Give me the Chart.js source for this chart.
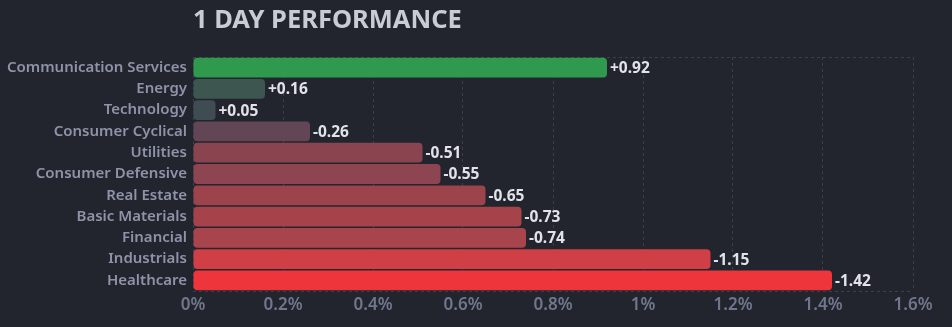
<!DOCTYPE html>
<html>
<head>
<meta charset="utf-8">
<script src="https://cdn.jsdelivr.net/npm/chart.js@4.4.1/dist/chart.umd.min.js"></script>
<style>
  html, body { margin: 0; padding: 0; background: #22252e; }
  #wrap { width: 952px; height: 327px; position: relative; }
</style>
</head>
<body>
<div id="wrap"><canvas id="perfChart"></canvas></div>
<script>
const sectors = ["Communication Services", "Energy", "Technology", "Consumer Cyclical", "Utilities",
    "Consumer Defensive", "Real Estate", "Basic Materials", "Financial", "Industrials", "Healthcare"];
const changes = [0.92, 0.16, 0.05, -0.26, -0.51, -0.55, -0.65, -0.73, -0.74, -1.15, -1.42];
const barColors = ["#2f9a4e", "#3d5650", "#3f4d53", "#634656", "#8a4450", "#8d4551",
    "#9c434c", "#a6434a", "#a8444b", "#cf3f45", "#ee353c"];
const xTicks = [0, 0.2, 0.4, 0.6, 0.8, 1, 1.2, 1.4, 1.6];

const gridColor = "#3b3f4c";

// value labels + title
const labelPlugin = {
    id: "valueLabels",
    afterDatasetsDraw(chart) {
        const ctx = chart.ctx;
        const meta = chart.getDatasetMeta(0);
        ctx.save();
        ctx.font = "bold 15.5px 'Noto Sans'";
        ctx.fillStyle = "#e2e3ea";
        ctx.textBaseline = "middle";
        ctx.textAlign = "left";
        meta.data.forEach((bar, i) => {
            const v = changes[i];
            const txt = (v > 0 ? "+" : "") + v.toFixed(2);
            ctx.fillText(txt, bar.x + 3, bar.y + 1);
        });
        ctx.font = "bold 25.5px 'Noto Sans'";
        ctx.fillStyle = "#c9cbd7";
        ctx.fillText("1 DAY PERFORMANCE", chart.chartArea.left, 21);
        ctx.restore();
    }
};

const ctx = document.getElementById("perfChart").getContext("2d");
new Chart(ctx, {
    type: "bar",
    data: {
        labels: sectors,
        datasets: [{
            data: changes.map(v => Math.abs(v)),
            backgroundColor: barColors,
            borderRadius: 4,
            borderSkipped: false,
            categoryPercentage: 1,
            barPercentage: 0.93
        }]
    },
    options: {
        indexAxis: "y",
        responsive: true,
        maintainAspectRatio: false,
        animation: false,
        layout: { padding: { top: 57, right: 39, left: 0, bottom: 0 } },
        plugins: {
            legend: { display: false },
            tooltip: { enabled: false },
            title: { display: false }
        },
        scales: {
            x: {
                min: 0,
                max: 1.6,
                afterBuildTicks: scale => { scale.ticks = xTicks.map(v => ({ value: v })); },
                afterFit: scale => { scale.height = 36; },
                border: { display: false, dash: [3, 3] },
                grid: { color: gridColor, drawTicks: false, lineWidth: 1 },
                ticks: {
                    padding: 4,
                    color: "#70768b",
                    font: { family: "Noto Sans", size: 17, weight: 600 },
                    callback: v => (Math.round(v * 10) / 10) + "%"
                }
            },
            y: {
                afterFit: scale => { scale.width = 193; },
                border: { display: false, dash: [3, 3] },
                grid: {
                    offset: true,
                    drawTicks: false,
                    color: c => (c.type === "scale" || c.index === 0) ? gridColor : "transparent"
                },
                ticks: {
                    padding: 6,
                    color: "#8f93a9",
                    font: { family: "Noto Sans", size: 15, weight: 600 }
                }
            }
        }
    },
    plugins: [labelPlugin]
});
</script>
</body>
</html>
